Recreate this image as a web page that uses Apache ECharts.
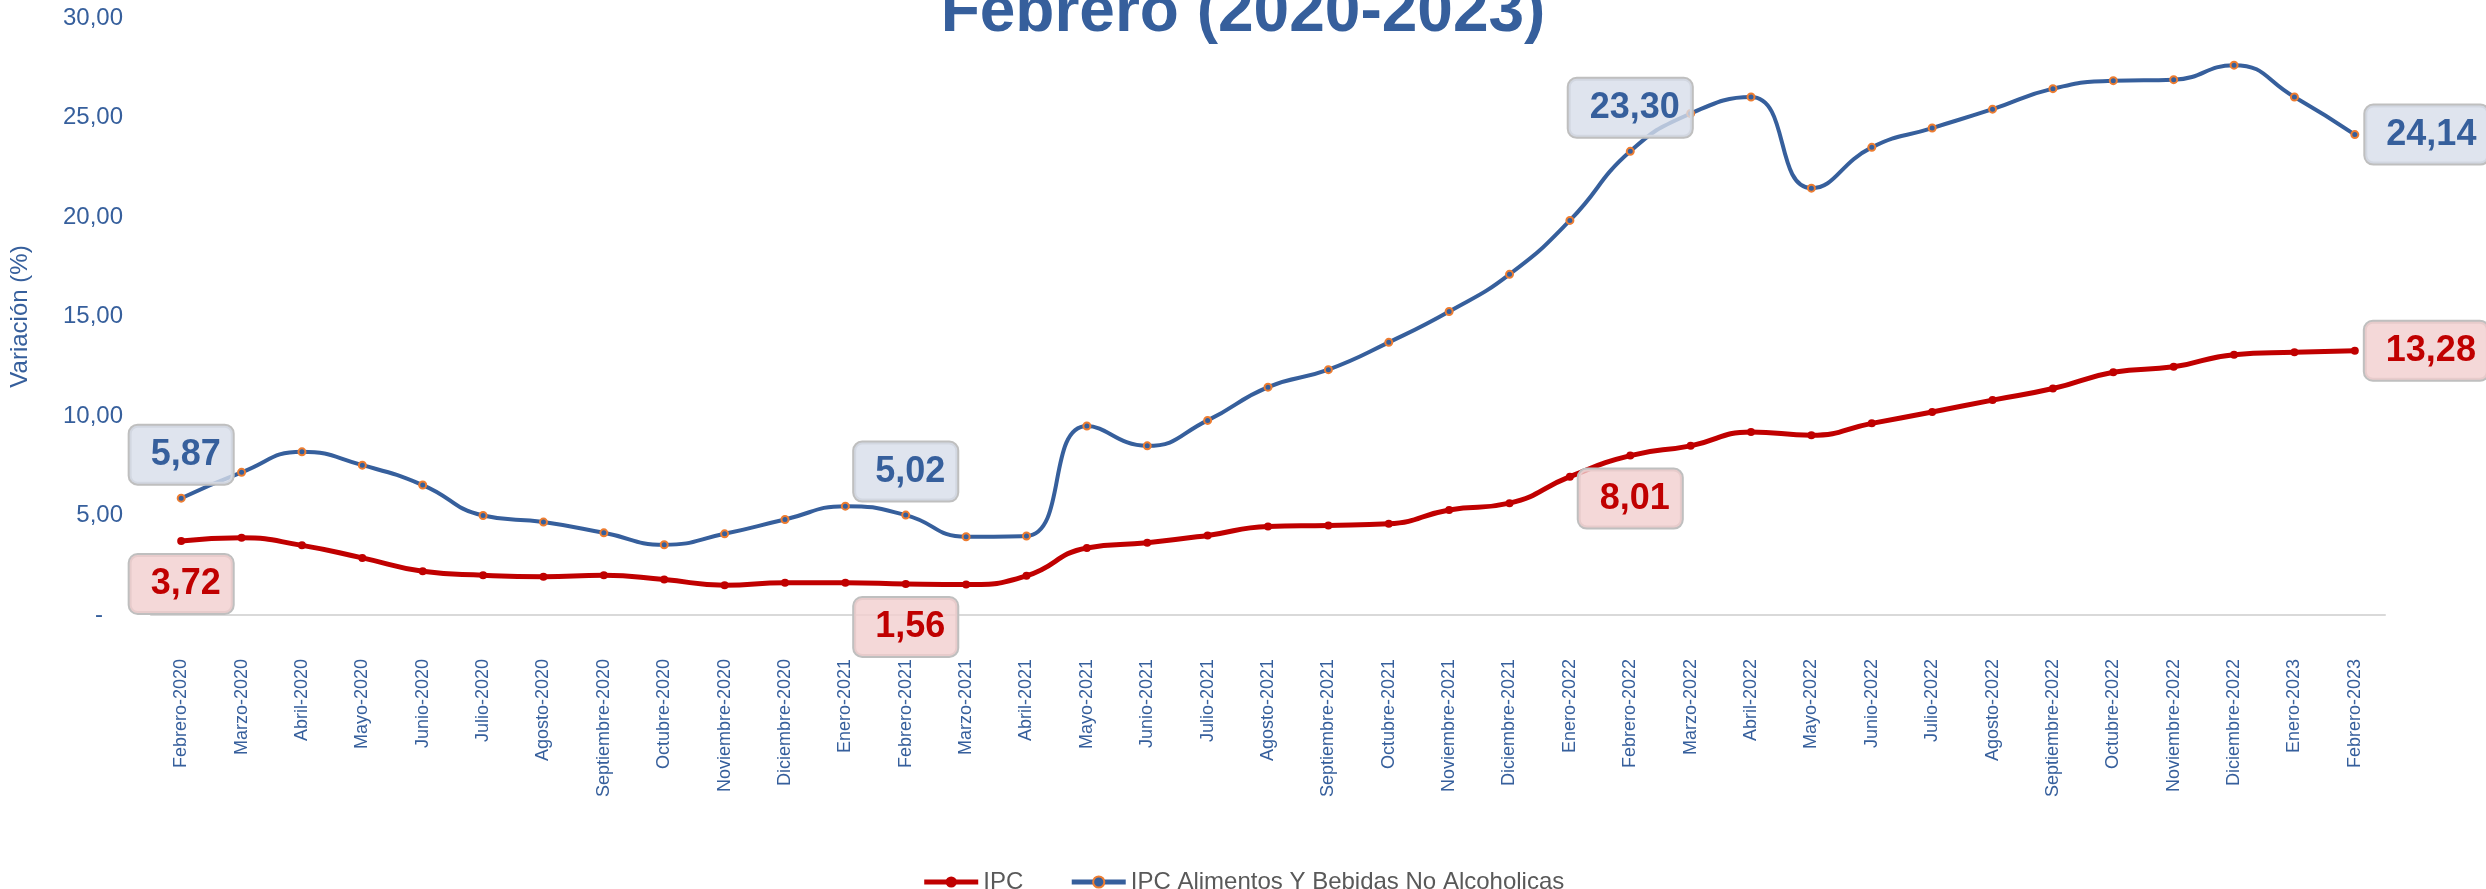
<!DOCTYPE html>
<html>
<head>
<meta charset="utf-8">
<script src="https://cdn.jsdelivr.net/npm/echarts@6/dist/echarts.min.js"></script>
<style>
  html, body { margin: 0; padding: 0; background: #fff; }
  #chart { width: 2486px; height: 889px; }
</style>
</head>
<body>
<div id="chart"></div>
<script>
const months = [
  'Febrero-2020', 'Marzo-2020', 'Abril-2020', 'Mayo-2020', 'Junio-2020', 'Julio-2020',
  'Agosto-2020', 'Septiembre-2020', 'Octubre-2020', 'Noviembre-2020', 'Diciembre-2020',
  'Enero-2021', 'Febrero-2021', 'Marzo-2021', 'Abril-2021', 'Mayo-2021', 'Junio-2021',
  'Julio-2021', 'Agosto-2021', 'Septiembre-2021', 'Octubre-2021', 'Noviembre-2021',
  'Diciembre-2021', 'Enero-2022', 'Febrero-2022', 'Marzo-2022', 'Abril-2022', 'Mayo-2022',
  'Junio-2022', 'Julio-2022', 'Agosto-2022', 'Septiembre-2022', 'Octubre-2022',
  'Noviembre-2022', 'Diciembre-2022', 'Enero-2023', 'Febrero-2023'
]

const ipc = [
  3.72, 3.88, 3.50, 2.87, 2.20, 2.00, 1.92, 2.00, 1.78, 1.50, 1.62, 1.62, 1.56,
  1.53, 1.97, 3.37, 3.63, 4.00, 4.45, 4.50, 4.58, 5.28, 5.62, 6.95, 8.01, 8.50,
  9.20, 9.03, 9.63, 10.20, 10.80, 11.38, 12.20, 12.47, 13.08, 13.20, 13.28
]

const ipcAlimentos = [
  5.87, 7.17, 8.20, 7.53, 6.53, 5.00, 4.67, 4.13, 3.53, 4.08, 4.80, 5.47, 5.02,
  3.93, 3.97, 9.50, 8.50, 9.78, 11.45, 12.33, 13.70, 15.25, 17.12, 19.83, 23.30,
  25.20, 26.03, 21.45, 23.50, 24.47, 25.42, 26.45, 26.85, 26.90, 27.63, 26.03, 24.14
]

// puntos con etiqueta (febrero de cada año)
const labelIdx = [0, 12, 24, 36]

const BLUE = '#365f9c'
const RED = '#c00000'
const FONT = 'Arial, "Liberation Sans", sans-serif'

const fmt = v => v.toFixed(2).replace('.', ',')

const boxLabel = (color, bg, position, distance) => ({
  show: true,
  position,
  distance,
  formatter: p => fmt(p.value),
  color,
  fontFamily: FONT,
  fontSize: 36,
  fontWeight: 'bold',
  backgroundColor: bg,
  borderColor: '#bfbfbf',
  borderWidth: 2,
  borderRadius: 8,
  padding: [11, 12, 11, 21]
})

const buildData = (values, color, bg, vPos) =>
  values.map((v, i) => {
    if (!labelIdx.includes(i)) return v
    const last = i === values.length - 1
    return {
      value: v,
      label: boxLabel(color, bg, last ? 'right' : vPos, last ? 6 : 10)
    }
  })

const chart = echarts.init(document.getElementById('chart'))

chart.setOption({
  backgroundColor: '#fff',
  animation: false,
  title: {
    text: 'Febrero (2020-2023)',
    left: 'center',
    top: -19,
    padding: 0,
    textStyle: {
      color: BLUE,
      fontFamily: FONT,
      fontSize: 64,
      fontWeight: 'bold'
    }
  },
  legend: {
    top: 865,
    left: 'center',
    itemWidth: 54,
    itemHeight: 14,
    itemGap: 46,
    lineStyle: { width: 5 },
    textStyle: {
      color: '#595959',
      fontFamily: FONT,
      fontSize: 24
    }
  },
  grid: {
    left: 145,
    right: 101,
    top: 18,
    bottom: 274
  },
  xAxis: {
    type: 'category',
    data: months,
    boundaryGap: true,
    axisTick: { show: false },
    axisLine: {
      lineStyle: { color: '#d9d9d9', width: 2 }
    },
    axisLabel: {
      interval: 0,
      rotate: 90,
      margin: 44,
      color: BLUE,
      fontFamily: FONT,
      fontSize: 18
    }
  },
  yAxis: {
    type: 'value',
    min: 0,
    max: 30,
    interval: 5,
    name: 'Variación (%)',
    nameLocation: 'middle',
    nameRotate: 90,
    nameGap: 119,
    nameTextStyle: {
      color: BLUE,
      fontFamily: FONT,
      fontSize: 24
    },
    splitLine: { show: false },
    axisLine: { show: false },
    axisTick: { show: false },
    axisLabel: {
      margin: 28,
      color: BLUE,
      fontFamily: FONT,
      fontSize: 24,
      formatter: v => (v === 0 ? '-   ' : fmt(v))
    }
  },
  series: [
    {
      name: 'IPC',
      type: 'line',
      smooth: 0.5,
      symbol: 'circle',
      symbolSize: 8,
      showAllSymbol: true,
      lineStyle: { color: RED, width: 5 },
      itemStyle: { color: RED },
      z: 3,
      data: buildData(ipc, RED, 'rgba(241, 206, 206, 0.8)', 'bottom')
    },
    {
      name: 'IPC Alimentos Y Bebidas No Alcoholicas',
      type: 'line',
      smooth: 0.5,
      symbol: 'circle',
      symbolSize: 7,
      showAllSymbol: true,
      lineStyle: { color: BLUE, width: 4 },
      itemStyle: { color: BLUE, borderColor: '#ed7d31', borderWidth: 2 },
      z: 2,
      data: buildData(ipcAlimentos, BLUE, 'rgba(215, 221, 234, 0.8)', 'top')
    }
  ]
})
</script>
</body>
</html>
